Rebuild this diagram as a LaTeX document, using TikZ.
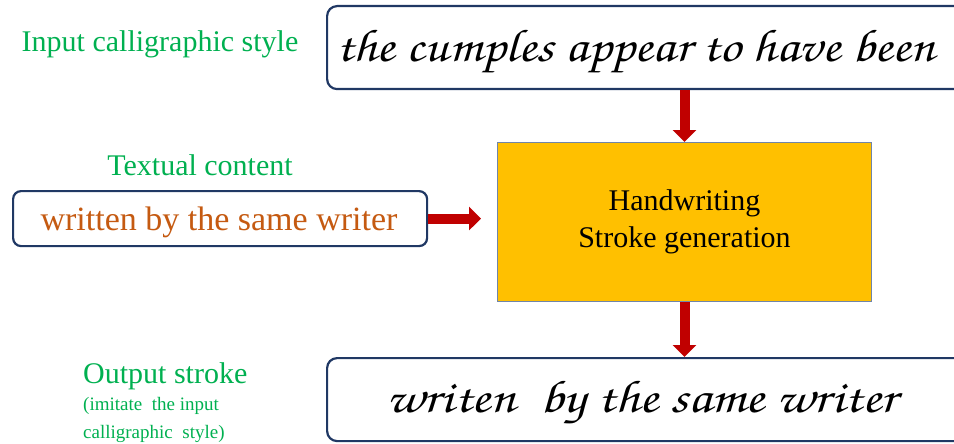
\documentclass[tikz,border=0pt]{standalone}
\usepackage[T1]{fontenc}
\usepackage{fontspec}
\setmainfont{Liberation Serif}
\usetikzlibrary{arrows.meta}
\definecolor{lblgreen}{HTML}{00B050}
\definecolor{txtbrown}{HTML}{C55A11}
\definecolor{arrred}{HTML}{C00000}
\definecolor{boxnavy}{HTML}{203864}
\definecolor{genorange}{HTML}{FFC000}
\definecolor{genedge}{HTML}{7085A8}
\newcommand{\handfont}{\fontencoding{T1}\fontfamily{pzc}\fontseries{mb}\fontshape{it}\selectfont}
\tikzset{
  roundbox/.style={draw=boxnavy, line width=2.2pt, rounded corners=10pt, fill=white, inner sep=0pt},
  lbl/.style={text=lblgreen, inner sep=0pt},
  hand/.style={inner sep=0pt, text=black, font=\handfont\fontsize{46}{50}\selectfont, transform shape},
  bigarrow/.style={draw=arrred, line width=10pt, -{Triangle[width=23pt,length=12pt]}},
  genbox/.style={draw=genedge, line width=1pt, fill=genorange, inner sep=0pt, align=center, font=\fontsize{30}{37}\selectfont}
}
\begin{document}
\begin{tikzpicture}[x=1pt,y=-1pt]
\useasboundingbox (0,0) rectangle (954,444);
\clip (0,0) rectangle (954,444);
% boxes
\node[roundbox, anchor=north west, minimum width=640pt, minimum height=83pt] (top) at (326,5) {};
\node[roundbox, anchor=north west, minimum width=640pt, minimum height=83pt] (bot) at (326,357) {};
\node[roundbox, rounded corners=8pt, anchor=north west, minimum width=414pt, minimum height=55pt] (txt) at (12,190) {};
\node[genbox, anchor=north west, minimum width=374pt, minimum height=159pt] (gen) at (497,142) {Handwriting\\Stroke generation};
% texts in boxes
\begin{scope}[xscale=1.16]
\node[hand, anchor=base west] (toptext) at (336/1.16,62) {the cumples appear to have been};
\end{scope}
\begin{scope}[xscale=1.2]
\node[hand, anchor=base west] (bottext) at (386/1.2,412) {writen \ by the same writer};
\end{scope}
\node[inner sep=0pt, anchor=base, text=txtbrown, font=\fontsize{34}{40}\selectfont] (txttext) at (219,230) {written by the same writer};
% labels
\node[lbl, anchor=base, font=\fontsize{30}{36}\selectfont] (l1) at (160,52) {Input calligraphic style};
\node[lbl, anchor=base, font=\fontsize{30}{36}\selectfont] (l2) at (200,175) {Textual content};
\node[lbl, anchor=base west, font=\fontsize{30}{36}\selectfont] (l3) at (83,383) {Output stroke};
\node[lbl, anchor=base west, font=\fontsize{19}{22}\selectfont] (l4) at (83,410) {(imitate\ \ the input};
\node[lbl, anchor=base west, font=\fontsize{19}{22}\selectfont] (l5) at (83,438) {calligraphic\ \ style)};
% arrows
\draw[bigarrow] (gen.north |- top.south) -- (gen.north);
\draw[bigarrow] (gen.south) -- (gen.south |- bot.north);
\draw[bigarrow, shorten >=16pt] (txt.east) -- (gen.west |- txt.east);
\end{tikzpicture}
\end{document}
